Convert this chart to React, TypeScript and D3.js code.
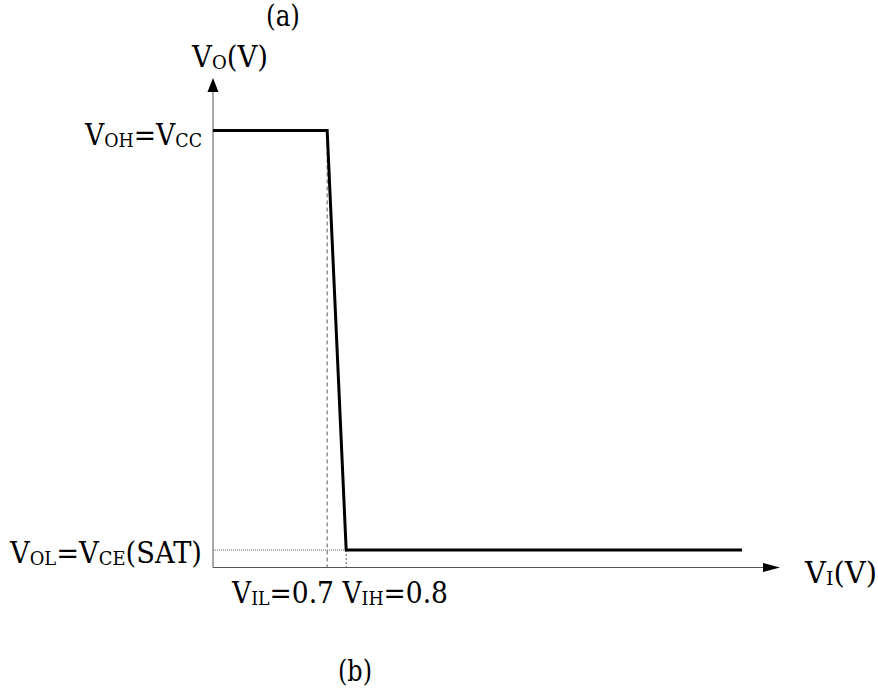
import * as d3 from 'd3';

// transfer characteristic of the inverter (volts)
const vIn = [0.1, 0.7, 0.8, 2.88];
const vOut = [5, 5, 0.2, 0.2];
const VIL = 0.7;
const VIH = 0.8;
const VOH = 5;
const VOL = 0.2;

// label parts: [text, isSubscript]
const yTopLabel: [string, boolean][] = [['V', false], ['OH', true], ['=V', false], ['CC', true]];
const yLowLabel: [string, boolean][] = [['V', false], ['OL', true], ['=V', false], ['CE', true], ['(SAT)', false]];
const xTickLabel: [string, boolean][] = [['V', false], ['IL', true], ['=0.7 V', false], ['IH', true], ['=0.8', false]];
const yAxisTitle: [string, boolean][] = [['V', false], ['O', true], ['(V)', false]];
const xAxisTitle: [string, boolean][] = [['V', false], ['I', true], ['(V)', false]];

const W = 878;
const H = 693;
const FS = 29;
const SUB = 19;
const FONT = 'DejaVu Serif';

const x = d3.scaleLinear().domain([0.1, 3.08]).range([213, 780]);
const y = d3.scaleLinear().domain([0, 5.6]).range([567.5, 78]);

// serif glyphs here are wider than the original Times, so squeeze each label to its width
const Label = ({ parts, px, py, len }: { parts: [string, boolean][]; px: number; py: number; len: number }) => {
  let prevSub = false;
  return (
    <text x={px} y={py} fontSize={FS} fontFamily={FONT} textLength={len} lengthAdjust="spacingAndGlyphs">
      {parts.map(([t, sub], i) => {
        const dy = sub && !prevSub ? 2 : !sub && prevSub ? -2 : 0;
        prevSub = sub;
        return (
          <tspan key={i} dy={dy} fontSize={sub ? SUB : FS}>{t}</tspan>
        );
      })}
    </text>
  );
};

export default function App() {
  const line = d3.line<number>().x((d, i) => x(vIn[i])).y(d => y(d));
  const x0 = x.range()[0];
  const xEnd = x.range()[1];
  const y0 = y.range()[0];
  const yEnd = y.range()[1];

  return (
    <svg width={W} height={H} style={{ position: 'absolute', left: 0, top: 0, background: '#fff' }} fontFamily={FONT}>
      {/* guide lines */}
      <line x1={x(VIL)} x2={x(VIL)} y1={y(VOH)} y2={y0} stroke="#333" strokeWidth={0.8} strokeDasharray="4,3" />
      <line x1={x(VIH)} x2={x(VIH)} y1={y(VOL)} y2={y0} stroke="#333" strokeWidth={0.8} strokeDasharray="2,2" />
      <line x1={x0} x2={x(VIH)} y1={y(VOL)} y2={y(VOL)} stroke="#333" strokeWidth={0.8} strokeDasharray="1,1" />

      {/* axes */}
      <line x1={x0} x2={x0} y1={y0} y2={yEnd + 12} stroke="#555" strokeWidth={1} />
      <line x1={x0} x2={xEnd - 16} y1={y0} y2={y0} stroke="#555" strokeWidth={1} />
      <path d={`M${x0},${yEnd} L${x0 - 5.5},${yEnd + 14} L${x0 + 5.5},${yEnd + 14} Z`} fill="#000" />
      <path d={`M${xEnd},${y0} L${xEnd - 17},${y0 - 4.5} L${xEnd - 17},${y0 + 4.5} Z`} fill="#000" />

      {/* transfer curve */}
      <path d={line(vOut) ?? ''} fill="none" stroke="#000" strokeWidth={3} strokeLinejoin="miter" />

      {/* labels */}
      <Label parts={yTopLabel} px={85} py={y(VOH) + 15} len={117} />
      <Label parts={yLowLabel} px={10} py={y(VOL) + 13} len={192} />
      <Label parts={xTickLabel} px={232} py={603} len={216} />
      <Label parts={yAxisTitle} px={192} py={67} len={76} />
      <Label parts={xAxisTitle} px={805} py={583} len={72} />
      <text x={266} y={26} fontSize={FS} fontFamily={FONT} textLength={34} lengthAdjust="spacingAndGlyphs">(a)</text>
      <text x={338} y={681} fontSize={FS} fontFamily={FONT} textLength={34} lengthAdjust="spacingAndGlyphs">(b)</text>
    </svg>
  );
}
